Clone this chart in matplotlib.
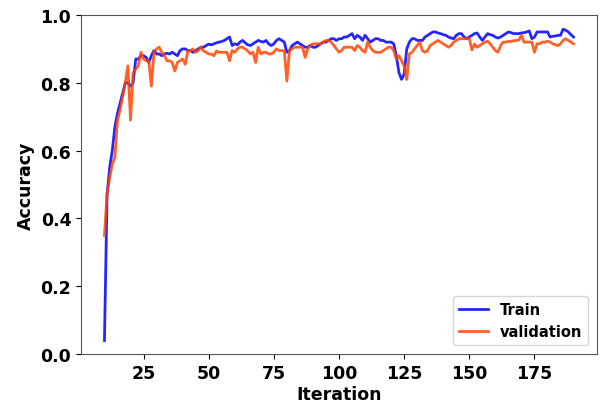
import numpy as np
import matplotlib
matplotlib.use("Agg")
import matplotlib.pyplot as plt

iterations = list(range(10, 191))

train_acc = [
    0.04, 0.47, 0.55, 0.60, 0.67, 0.71, 0.74, 0.77, 0.80, 0.80,   # 10-19
    0.79, 0.80, 0.87, 0.87, 0.88, 0.88, 0.875, 0.86, 0.88, 0.895,  # 20-29
    0.885, 0.885, 0.88, 0.885, 0.887, 0.885, 0.89, 0.885, 0.88, 0.895,  # 30-39
    0.90, 0.90, 0.895, 0.895, 0.89, 0.895, 0.90, 0.905, 0.905, 0.91,  # 40-49
    0.914, 0.912, 0.915, 0.918, 0.92, 0.922, 0.925, 0.93, 0.935, 0.91,  # 50-59
    0.915, 0.912, 0.92, 0.925, 0.918, 0.912, 0.91, 0.915, 0.92, 0.925,  # 60-69
    0.922, 0.92, 0.925, 0.915, 0.91, 0.915, 0.925, 0.93, 0.925, 0.92,  # 70-79
    0.89, 0.895, 0.91, 0.915, 0.92, 0.915, 0.91, 0.905, 0.905, 0.91,  # 80-89
    0.905, 0.905, 0.91, 0.915, 0.92, 0.92, 0.925, 0.93, 0.93, 0.925,  # 90-99
    0.93, 0.93, 0.935, 0.935, 0.94, 0.945, 0.93, 0.94, 0.935, 0.925,  # 100-109
    0.94, 0.93, 0.92, 0.925, 0.93, 0.93, 0.925, 0.925, 0.92, 0.92,  # 110-119
    0.92, 0.915, 0.88, 0.83, 0.81, 0.825, 0.90, 0.92, 0.93, 0.93,  # 120-129
    0.925, 0.925, 0.925, 0.935, 0.94, 0.945, 0.95, 0.95, 0.947, 0.945,  # 130-139
    0.942, 0.94, 0.935, 0.932, 0.93, 0.94, 0.945, 0.945, 0.935, 0.93,  # 140-149
    0.935, 0.94, 0.945, 0.947, 0.935, 0.925, 0.935, 0.945, 0.942, 0.94,  # 150-159
    0.935, 0.932, 0.935, 0.94, 0.945, 0.95, 0.948, 0.945, 0.945, 0.945,  # 160-169
    0.947, 0.948, 0.95, 0.953, 0.93, 0.935, 0.95, 0.95, 0.95, 0.95,  # 170-179
    0.95, 0.935, 0.937, 0.938, 0.94, 0.94, 0.958, 0.955, 0.95, 0.942,  # 180-189
    0.935,  # 190
]

val_acc = [
    0.35, 0.47, 0.52, 0.56, 0.58, 0.69, 0.72, 0.76, 0.80, 0.85,   # 10-19
    0.69, 0.83, 0.84, 0.85, 0.89, 0.87, 0.865, 0.865, 0.79, 0.89,  # 20-29
    0.90, 0.905, 0.89, 0.88, 0.865, 0.865, 0.86, 0.835, 0.86, 0.865,  # 30-39
    0.87, 0.855, 0.894, 0.895, 0.90, 0.89, 0.895, 0.905, 0.894, 0.89,  # 40-49
    0.885, 0.885, 0.88, 0.894, 0.89, 0.89, 0.89, 0.89, 0.865, 0.895,  # 50-59
    0.89, 0.90, 0.905, 0.905, 0.90, 0.894, 0.885, 0.89, 0.86, 0.905,  # 60-69
    0.885, 0.89, 0.89, 0.885, 0.885, 0.89, 0.90, 0.895, 0.895, 0.895,  # 70-79
    0.805, 0.895, 0.90, 0.905, 0.905, 0.905, 0.905, 0.875, 0.90, 0.91,  # 80-89
    0.915, 0.915, 0.915, 0.915, 0.92, 0.925, 0.925, 0.92, 0.91, 0.90,  # 90-99
    0.89, 0.895, 0.905, 0.905, 0.905, 0.905, 0.895, 0.91, 0.905, 0.895,  # 100-109
    0.89, 0.92, 0.905, 0.895, 0.89, 0.89, 0.89, 0.895, 0.90, 0.905,  # 110-119
    0.905, 0.895, 0.87, 0.88, 0.865, 0.85, 0.81, 0.885, 0.89, 0.90,  # 120-129
    0.91, 0.92, 0.895, 0.89, 0.895, 0.91, 0.915, 0.92, 0.925, 0.92,  # 130-139
    0.915, 0.91, 0.905, 0.91, 0.92, 0.925, 0.93, 0.93, 0.93, 0.93,  # 140-149
    0.93, 0.897, 0.914, 0.905, 0.91, 0.915, 0.92, 0.923, 0.915, 0.905,  # 150-159
    0.895, 0.89, 0.91, 0.92, 0.92, 0.922, 0.922, 0.924, 0.925, 0.926,  # 160-169
    0.94, 0.92, 0.92, 0.92, 0.92, 0.89, 0.915, 0.915, 0.92, 0.92,  # 170-179
    0.923, 0.92, 0.915, 0.912, 0.91, 0.915, 0.925, 0.93, 0.925, 0.92,  # 180-189
    0.915,  # 190
]

x_ticks = [25, 50, 75, 100, 125, 150, 175]
y_ticks = [0.0, 0.2, 0.4, 0.6, 0.8, 1.0]

fig = plt.figure(figsize=(6.0, 4.1), dpi=100)
ax = fig.add_axes([0.135, 0.134, 0.86, 0.827])

ax.plot(iterations, train_acc, color="blue", alpha=0.85, linewidth=2, label="Train")
ax.plot(iterations, val_acc, color="orangered", alpha=0.85, linewidth=2, label="validation")

ax.set_ylim(0.0, 1.0)
ax.set_xticks(x_ticks)
ax.set_yticks(y_ticks)
ax.set_yticklabels([f"{v:.1f}" for v in y_ticks])

for lbl in ax.get_xticklabels() + ax.get_yticklabels():
    lbl.set_fontweight("bold")
    lbl.set_fontsize(12.5)

ax.set_xlabel("Iteration", fontsize=12.5, fontweight="bold", labelpad=2)
ax.set_ylabel("Accuracy", fontsize=12.5, fontweight="bold")

for sp in ax.spines.values():
    sp.set_color("#555555")

leg = ax.legend(loc="lower right", prop={"weight": "bold", "size": 10.5},
                borderaxespad=0.6)

fig.savefig("out.png", dpi=100)
